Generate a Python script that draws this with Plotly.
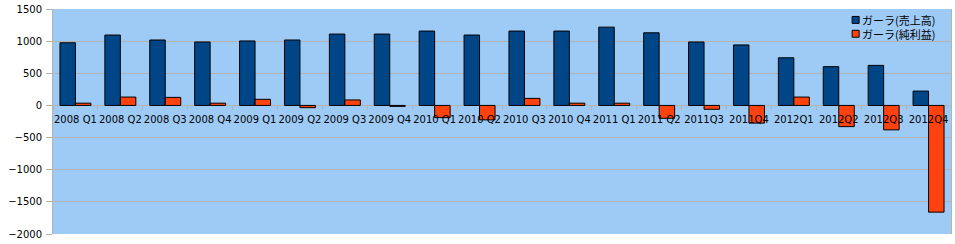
import plotly.graph_objects as go

categories = ["2008 Q1", "2008 Q2", "2008 Q3", "2008 Q4", "2009 Q1", "2009 Q2",
              "2009 Q3", "2009 Q4", "2010 Q1", "2010 Q2", "2010 Q3", "2010 Q4",
              "2011 Q1", "2011 Q2", "2011Q3", "2011Q4", "2012Q1", "2012Q2",
              "2012Q3", "2012Q4"]
sales = [975, 1095, 1018, 987, 1003, 1018, 1110, 1110, 1157, 1095, 1157, 1157,
         1218, 1130, 987, 941, 741, 603, 623, 223]
net_income = [35, 130, 125, 35, 95, -35, 85, -15, -190, -225, 110, 35,
              35, -200, -60, -275, 130, -330, -380, -1660]
series_names = ["ガーラ(売上高)", "ガーラ(純利益)"]
series_colors = ["#004586", "#ff420e"]
y_ticks = [1500, 1000, 500, 0, -500, -1000, -1500, -2000]

FONT = "DejaVu Sans, Noto Sans CJK JP, sans-serif"
LEG_FONT = "Noto Sans CJK JP, DejaVu Sans, sans-serif"

fig = go.Figure()
for name, vals, col in zip(series_names, [sales, net_income], series_colors):
    fig.add_trace(go.Bar(x=categories, y=vals, name=name, showlegend=False,
                         marker=dict(color=col, line=dict(color="#000000", width=1))))

# compact legend (top right, inside plot area): squares + one two-line text
leg_x0 = 0.8899
row_y = [0.9515, 0.8899]
for col, yy in zip(series_colors, row_y):
    fig.add_shape(type="rect", xref="paper", yref="paper",
                  x0=leg_x0, x1=leg_x0 + 0.0078, y0=yy - 0.0154, y1=yy + 0.0154,
                  fillcolor=col, line=dict(color="#000000", width=1))
fig.add_annotation(xref="paper", yref="paper", x=leg_x0 + 0.0092, y=sum(row_y) / 2,
                   xanchor="left", yanchor="middle", showarrow=False, align="left",
                   text="<br>".join(series_names),
                   font=dict(family=LEG_FONT, size=11, color="#000000"))

ymin, ymax = -2000, 1500
fig.update_layout(
    width=955, height=244,
    margin=dict(l=53, r=3, t=7, b=10),
    paper_bgcolor="#ffffff",
    plot_bgcolor="#9ecbf6",
    barmode="group",
    bargap=0.31,
    bargroupgap=0,
    font=dict(family=FONT, size=10, color="#000000"),
    xaxis=dict(type="category", anchor="free",
               position=(0 - ymin) / (ymax - ymin),
               showgrid=False, showline=False, zeroline=False,
               ticks="outside", ticklen=4, tickcolor="#b3b3b3",
               tickson="boundaries", tickangle=0, ticklabelstandoff=7,
               tickfont=dict(size=10, family=FONT)),
    yaxis=dict(range=[ymin, ymax], tickvals=y_ticks,
               showgrid=True, gridcolor="#b3b3b3", gridwidth=1,
               zeroline=True, zerolinecolor="#b3b3b3", zerolinewidth=1,
               showline=True, linecolor="#b3b3b3", mirror=True,
               ticks="outside", ticklen=6, tickcolor="#b3b3b3",
               ticklabelstandoff=2,
               tickfont=dict(size=10, family=FONT)),
)

fig.write_html("out.html")
